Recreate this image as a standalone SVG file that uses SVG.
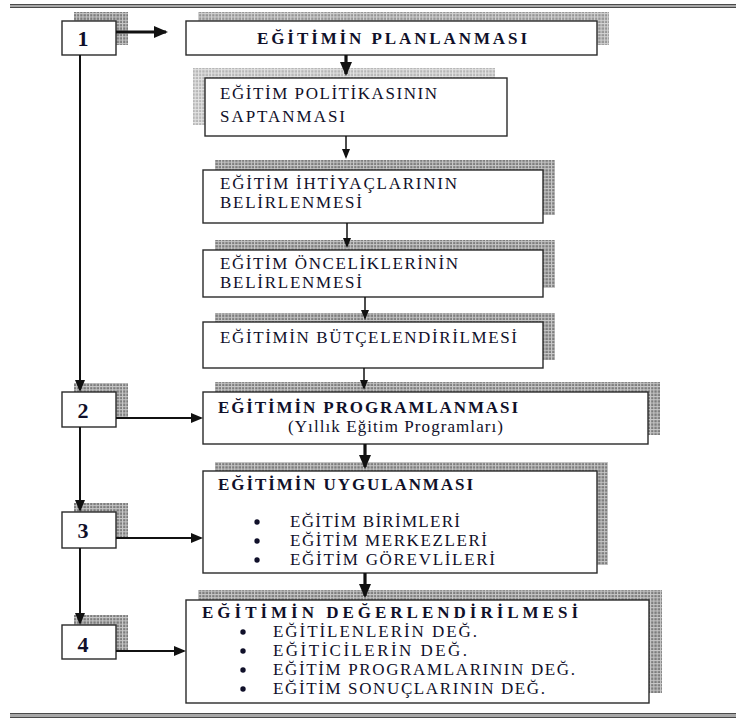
<svg xmlns="http://www.w3.org/2000/svg" width="736" height="719" viewBox="0 0 736 719">
<defs>
<pattern id="gd" width="3.3" height="3.3" patternUnits="userSpaceOnUse"><rect width="3.3" height="3.3" fill="#c8c8c8"/><rect x="1" y="1" width="2.3" height="2.3" fill="#7c7c7c"/></pattern>
<pattern id="gm" width="3.3" height="3.3" patternUnits="userSpaceOnUse"><rect width="3.3" height="3.3" fill="#d4d4d4"/><rect x="1" y="1" width="2.3" height="2.3" fill="#959595"/></pattern>
<pattern id="gl" width="3.3" height="3.3" patternUnits="userSpaceOnUse"><rect width="3.3" height="3.3" fill="#e4e4e4"/><rect x="1" y="1" width="2.3" height="2.3" fill="#b6b6b6"/></pattern>
<marker id="ah" viewBox="0 0 12 10" refX="10" refY="5" markerWidth="12" markerHeight="10" markerUnits="userSpaceOnUse" orient="auto"><path d="M0,0 L12,5 L0,10 z" fill="#111"/></marker>
<marker id="as" viewBox="0 0 10 8" refX="8" refY="4" markerWidth="10" markerHeight="8" markerUnits="userSpaceOnUse" orient="auto"><path d="M0,0 L10,4 L0,8 z" fill="#111"/></marker>
<marker id="ab" viewBox="0 0 14 12" refX="12" refY="6" markerWidth="14" markerHeight="12" markerUnits="userSpaceOnUse" orient="auto"><path d="M0,0 L14,6 L0,12 z" fill="#111"/></marker>
</defs>
<style>
.box{fill:#fff;stroke:#2a2a2a;stroke-width:1.4}
.sd{fill:url(#gd)}
.sm{fill:url(#gm)}
.sl{fill:url(#gl)}
.t{font-family:"Liberation Serif","Times New Roman",serif;font-size:17px;fill:#10102a}
.b{font-weight:bold;font-size:17px}
.n{font-weight:bold;font-size:22px;text-anchor:middle}
.c{fill:none;stroke:#111}
.thin{stroke-width:1.5}
.mid{stroke-width:2}
.thick{stroke-width:3.2}
.dot{fill:#10102a}
</style>

<g id="frame">
<rect x="10" y="4" width="726" height="4" fill="#a8a8a8"/>
<line x1="10" y1="4.5" x2="736" y2="4.5" stroke="#4a4a4a" stroke-width="1"/>
<line x1="10" y1="7.5" x2="736" y2="7.5" stroke="#4a4a4a" stroke-width="1"/>
<rect x="10" y="713" width="726" height="5" fill="#a8a8a8"/>
<line x1="10" y1="713.5" x2="736" y2="713.5" stroke="#4a4a4a" stroke-width="1"/>
<line x1="10" y1="717.5" x2="736" y2="717.5" stroke="#4a4a4a" stroke-width="1"/>
</g>

<g id="n1">
<rect class="sd" x="74" y="12" width="54" height="33"/>
<rect class="box" x="62" y="21" width="54" height="34"/>
<text class="t n" x="83" y="46">1</text>
</g>

<g id="planlama">
<rect class="sm" x="198" y="12" width="411" height="33"/>
<rect class="box" x="186" y="21" width="411" height="34"/>
<text class="t b" x="257" y="44" textLength="270" lengthAdjust="spacing">EĞİTİMİN PLANLANMASI</text>
</g>

<g id="politika">
<rect class="sl" x="193" y="68" width="302" height="57"/>
<rect class="box" x="205" y="78" width="302" height="58"/>
<text class="t" x="220" y="99" textLength="217" lengthAdjust="spacing">EĞİTİM POLİTİKASININ</text>
<text class="t" x="220" y="122" textLength="125" lengthAdjust="spacing">SAPTANMASI</text>
</g>

<g id="ihtiyac">
<rect class="sd" x="215" y="160" width="340" height="55"/>
<rect class="box" x="203" y="170" width="340" height="53"/>
<text class="t" x="220" y="189" textLength="237" lengthAdjust="spacing">EĞİTİM İHTİYAÇLARININ</text>
<text class="t" x="220" y="208" textLength="142" lengthAdjust="spacing">BELİRLENMESİ</text>
</g>

<g id="oncelik">
<rect class="sd" x="215" y="240" width="340" height="48"/>
<rect class="box" x="203" y="250" width="340" height="47"/>
<text class="t" x="220" y="269" textLength="238" lengthAdjust="spacing">EĞİTİM ÖNCELİKLERİNİN</text>
<text class="t" x="220" y="288" textLength="142" lengthAdjust="spacing">BELİRLENMESİ</text>
</g>

<g id="butce">
<rect class="sd" x="215" y="313" width="340" height="47"/>
<rect class="box" x="203" y="322" width="340" height="46"/>
<text class="t" x="220" y="343" textLength="297" lengthAdjust="spacing">EĞİTİMİN BÜTÇELENDİRİLMESİ</text>
</g>

<g id="n2">
<rect class="sd" x="74" y="383" width="54" height="34"/>
<rect class="box" x="62" y="392" width="54" height="35"/>
<text class="t n" x="83" y="418">2</text>
</g>

<g id="programlama">
<rect class="sd" x="215" y="382" width="445" height="53"/>
<rect class="box" x="203" y="392" width="445" height="52"/>
<text class="t b" x="218" y="413" textLength="300" lengthAdjust="spacing">EĞİTİMİN PROGRAMLANMASI</text>
<text class="t" x="288" y="432" textLength="215" lengthAdjust="spacing">(Yıllık Eğitim Programları)</text>
</g>

<g id="n3">
<rect class="sd" x="74" y="503" width="54" height="35"/>
<rect class="box" x="62" y="512" width="54" height="36"/>
<text class="t n" x="83" y="538">3</text>
</g>

<g id="uygulama">
<rect class="sd" x="215" y="462" width="393" height="103"/>
<rect class="box" x="203" y="471" width="394" height="102"/>
<text class="t b" x="218" y="490" textLength="255" lengthAdjust="spacing">EĞİTİMİN UYGULANMASI</text>
<circle class="dot" cx="257" cy="522" r="2.7"/>
<circle class="dot" cx="257" cy="541" r="2.7"/>
<circle class="dot" cx="257" cy="560" r="2.7"/>
<text class="t" x="290" y="527" textLength="170" lengthAdjust="spacing">EĞİTİM BİRİMLERİ</text>
<text class="t" x="290" y="546" textLength="197" lengthAdjust="spacing">EĞİTİM MERKEZLERİ</text>
<text class="t" x="290" y="565" textLength="205" lengthAdjust="spacing">EĞİTİM GÖREVLİLERİ</text>
</g>

<g id="n4">
<rect class="sd" x="74" y="615" width="54" height="35"/>
<rect class="box" x="62" y="625" width="54" height="34"/>
<text class="t n" x="83" y="652">4</text>
</g>

<g id="degerlendirme">
<rect class="sd" x="198" y="590" width="464" height="103"/>
<rect class="box" x="186" y="600" width="463" height="103"/>
<text class="t b" x="202" y="618" textLength="376" lengthAdjust="spacing">EĞİTİMİN DEĞERLENDİRİLMESİ</text>
<circle class="dot" cx="243" cy="632" r="2.7"/>
<circle class="dot" cx="243" cy="651" r="2.7"/>
<circle class="dot" cx="243" cy="670" r="2.7"/>
<circle class="dot" cx="243" cy="689" r="2.7"/>
<text class="t" x="273" y="637" textLength="204" lengthAdjust="spacing">EĞİTİLENLERİN DEĞ.</text>
<text class="t" x="273" y="656" textLength="194" lengthAdjust="spacing">EĞİTİCİLERİN DEĞ.</text>
<text class="t" x="273" y="675" textLength="302" lengthAdjust="spacing">EĞİTİM PROGRAMLARININ DEĞ.</text>
<text class="t" x="273" y="694" textLength="272" lengthAdjust="spacing">EĞİTİM SONUÇLARININ DEĞ.</text>
</g>

<g id="connectors">
<path class="c mid" d="M80,55 V390" marker-end="url(#ah)"/>
<path class="c mid" d="M80,427 V510" marker-end="url(#ah)"/>
<path class="c mid" d="M80,548 V623" marker-end="url(#ah)"/>
<path class="c thick" d="M116,32 H166" marker-end="url(#ab)"/>
<path class="c mid" d="M116,418 H201" marker-end="url(#ah)"/>
<path class="c mid" d="M116,538 H201" marker-end="url(#ah)"/>
<path class="c mid" d="M116,651 H184" marker-end="url(#ah)"/>
<path class="c thick" d="M346,55 V74" marker-end="url(#ab)"/>
<path class="c thin" d="M346,136 V157" marker-end="url(#as)"/>
<path class="c thin" d="M347,223 V246" marker-end="url(#as)"/>
<path class="c thin" d="M365,297 V318" marker-end="url(#as)"/>
<path class="c thin" d="M364,368 V388" marker-end="url(#as)"/>
<path class="c thick" d="M365,444 V467" marker-end="url(#ab)"/>
<path class="c thick" d="M365,573 V596" marker-end="url(#ab)"/>
</g>
</svg>
